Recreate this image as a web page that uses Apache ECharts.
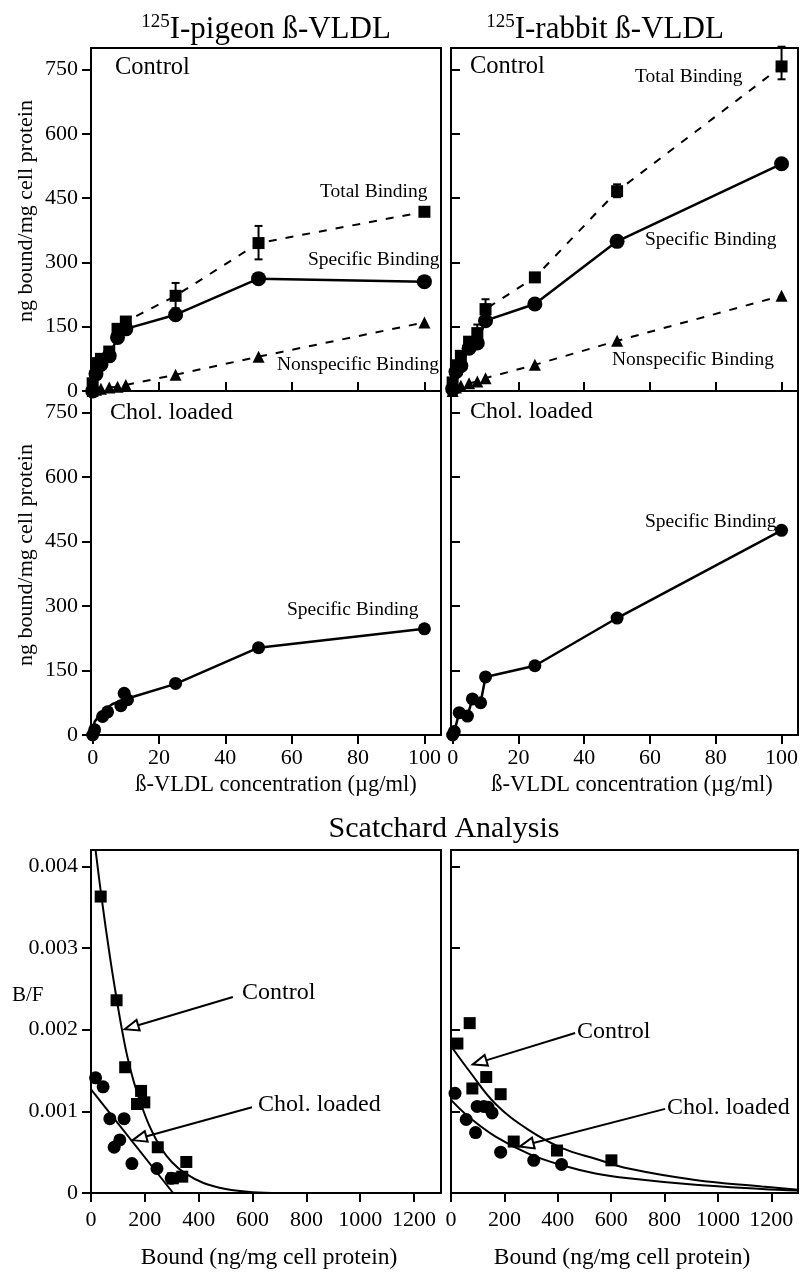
<!DOCTYPE html>
<html>
<head>
<meta charset="utf-8">
<script src="https://cdn.jsdelivr.net/npm/echarts@6/dist/echarts.min.js"></script>
<style>
  html, body { margin: 0; padding: 0; background: #fff; }
  #chart { width: 800px; height: 1273px; }
</style>
</head>
<body>
<div id="chart"></div>
<script>
// binding vs beta-VLDL concentration (ug/ml), ng bound/mg cell protein
var conc = [0, 1, 2.5, 5, 7.5, 10, 25, 50, 100];
var pigeonTotal = [18, 65, 75, 92, 145, 162, 222, 345, 418];
var pigeonSpecific = [0, 40, 62, 82, 125, 145, 178, 262, 255];
var pigeonNonspecific = [0, 3, 5, 8, 10, 14, 38, 80, 160];
var rabbitTotal = [20, 60, 82, 115, 135, 191, 265, 466, 757];
var rabbitSpecific = [5, 45, 59, 100, 112, 164, 203, 349, 530];
var rabbitNonspecific = [0, 8, 12, 18, 22, 30, 61, 117, 222];

// error bars on total binding: x, low, high
var pigeonErrX = [25, 50];
var pigeonErrLow = [193, 307];
var pigeonErrHigh = [252, 385];
var rabbitErrX = [7.5, 10, 50, 100];
var rabbitErrLow = [115, 168, 452, 727];
var rabbitErrHigh = [155, 214, 482, 803];

// cholesterol loaded cells, specific binding
var pigeonCholX = [0, 0.6, 3, 4.5, 8.5, 9.5, 10.5, 25, 50, 100];
var pigeonCholY = [0, 12, 43, 54, 68, 97, 82, 120, 203, 247];
var pigeonCholFitX = [0, 0.6, 2, 3.6, 6, 11, 25, 50, 100];
var pigeonCholFitY = [0, 31, 46, 58, 72, 86, 119, 203, 247];
var rabbitCholX = [0, 0.5, 2, 4.5, 6, 8.5, 10, 25, 50, 100];
var rabbitCholY = [0, 8, 52, 44, 84, 75, 135, 161, 272, 476];

// Scatchard: bound (ng/mg cell protein) vs B/F
var scPigeonCtrlX = [36, 95, 127, 171, 186, 198, 248, 304, 339, 354];
var scPigeonCtrlY = [0.00363, 0.00236, 0.00154, 0.00109, 0.00125, 0.00111, 0.00056, 0.00018, 0.0002, 0.00038];
var scPigeonCholX = [17, 45, 70, 86, 107, 123, 152, 245, 298];
var scPigeonCholY = [0.00141, 0.0013, 0.00091, 0.00056, 0.00065, 0.00091, 0.00036, 0.0003, 0.00018];
var scPigeonCtrlFitX = [17, 40, 70, 95, 115, 135, 160, 190, 220, 260, 300, 350, 420, 500, 600, 700, 1300];
var scPigeonCtrlFitY = [0.0042, 0.0036, 0.0029, 0.00238, 0.002, 0.00167, 0.00135, 0.00105, 0.0008, 0.00055, 0.00038, 0.00024, 0.00012, 0.00005, 0.00001, 0, 0];
var scPigeonCholFitX = [0, 305];
var scPigeonCholFitY = [0.00127, 0];

var scRabbitCtrlX = [24, 70, 80, 132, 186, 235, 397, 601];
var scRabbitCtrlY = [0.00183, 0.00208, 0.00128, 0.00142, 0.00121, 0.00063, 0.00052, 0.0004];
var scRabbitCholX = [15, 57, 92, 98, 123, 139, 154, 186, 310, 414];
var scRabbitCholY = [0.00122, 0.0009, 0.00074, 0.00106, 0.00106, 0.00105, 0.00098, 0.0005, 0.0004, 0.00035];
var scRabbitCtrlFitX = [0, 67, 167, 292, 416, 541, 665, 915, 1164, 1300];
var scRabbitCtrlFitY = [0.0018, 0.0015, 0.00109, 0.00077, 0.00055, 0.00042, 0.0003, 0.00016, 0.00008, 0.00004];
var scRabbitCholFitX = [0, 67, 167, 292, 416, 541, 665, 915, 1164, 1300];
var scRabbitCholFitY = [0.00114, 0.00093, 0.00069, 0.00048, 0.00034, 0.00024, 0.00018, 0.0001, 0.00005, 0.00003];

// tick labels
var bindXTicks = [0, 20, 40, 60, 80, 100];
var bindYTicks = [0, 150, 300, 450, 600, 750];
var scXTicks = [0, 200, 400, 600, 800, 1000, 1200];
var scYTicks = [0, 0.001, 0.002, 0.003, 0.004];

var FONT = 'Liberation Serif';

function pairs(xs, ys) {
  return xs.map(function (x, i) { return [x, ys[i]]; });
}
function triples(xs, lo, hi) {
  return xs.map(function (x, i) { return [x, lo[i], hi[i]]; });
}

var gridBoxes = [
  { left: 91, top: 48, width: 350, height: 343 },
  { left: 451, top: 48, width: 347, height: 343 },
  { left: 91, top: 391, width: 350, height: 344 },
  { left: 451, top: 391, width: 347, height: 344 },
  { left: 91, top: 850, width: 350, height: 343 },
  { left: 451, top: 850, width: 347, height: 343 }
];

function plainFmt(v) { return String(v); }
function scFmt(v) { return v === 0 ? '0' : v.toFixed(3); }

function tickStyle(inside, values) {
  return { show: true, inside: inside, length: 9, customValues: values, lineStyle: { color: '#000', width: 2 } };
}
function labelStyle(show, values, margin, fmt) {
  return { show: show, customValues: values, margin: margin, color: '#000', fontFamily: FONT, fontSize: 22,
    formatter: fmt || plainFmt };
}

function xAxisFor(i, min, max, ticks, inside, showLabel, margin) {
  return {
    type: 'value', gridIndex: i, min: min, max: max,
    axisLine: { show: false, onZero: false },
    splitLine: { show: false },
    axisTick: tickStyle(inside, ticks),
    axisLabel: labelStyle(showLabel, ticks, margin)
  };
}
function yAxisFor(i, min, max, ticks, inside, showLabel, fmt) {
  return {
    type: 'value', gridIndex: i, min: min, max: max,
    axisLine: { show: false, onZero: false },
    splitLine: { show: false },
    axisTick: tickStyle(inside, ticks),
    axisLabel: labelStyle(showLabel, ticks, 13, fmt)
  };
}

function lineSeries(i, data, opts) {
  return Object.assign({
    type: 'line', xAxisIndex: i, yAxisIndex: i, data: data,
    symbol: 'circle', symbolSize: 14, clip: false,
    itemStyle: { color: '#000' },
    lineStyle: { color: '#000', width: 2.5 },
    emphasis: { disabled: true }, silent: true, z: 3
  }, opts);
}

function errorBarItem(params, api) {
  var x = api.value(0);
  var lo = api.coord([x, api.value(1)]);
  var hi = api.coord([x, api.value(2)]);
  var w = 4;
  var st = { stroke: '#000', lineWidth: 2 };
  return {
    type: 'group', children: [
      { type: 'line', shape: { x1: lo[0], y1: lo[1], x2: hi[0], y2: hi[1] }, style: st },
      { type: 'line', shape: { x1: hi[0] - w, y1: hi[1], x2: hi[0] + w, y2: hi[1] }, style: st },
      { type: 'line', shape: { x1: lo[0] - w, y1: lo[1], x2: lo[0] + w, y2: lo[1] }, style: st }
    ]
  };
}
function errSeries(i, data) {
  return { type: 'custom', xAxisIndex: i, yAxisIndex: i, data: data, renderItem: errorBarItem,
    encode: { x: 0, y: [1, 2] }, silent: true, z: 4 };
}

function arrow(from, to) {
  return {
    silent: true, animation: false,
    symbol: ['none', 'emptyTriangle'], symbolSize: [11, 14],
    lineStyle: { color: '#000', width: 2, type: 'solid' },
    itemStyle: { color: '#000' },
    label: { show: false },
    emphasis: { disabled: true },
    data: [[{ coord: from }, { coord: to }]]
  };
}

var dashed = { color: '#000', width: 2, type: [8, 9] };

// text helpers
function txt(text, x, y, size, align, extra) {
  return Object.assign({
    type: 'text', x: x, y: y, silent: true, z: 10,
    style: { text: text, fill: '#000', font: size + 'px "' + FONT + '"',
      align: align || 'left', textAlign: align || 'left', verticalAlign: 'middle', textVerticalAlign: 'middle' }
  }, extra || {});
}
function titleTxt(rest, x, y) {
  return {
    type: 'text', x: x, y: y, silent: true,
    style: {
      text: '{s|125}{m|' + rest + '}', align: 'center', textAlign: 'center', verticalAlign: 'middle', textVerticalAlign: 'middle',
      rich: {
        s: { fontFamily: FONT, fontSize: 19, fill: '#000', color: '#000', verticalAlign: 'top', lineHeight: 30 },
        m: { fontFamily: FONT, fontSize: 31, fill: '#000', color: '#000', lineHeight: 34 }
      }
    }
  };
}

var chart = echarts.init(document.getElementById('chart'), null, { renderer: 'canvas' });

chart.setOption({
  backgroundColor: '#fff',
  animation: false,
  grid: gridBoxes.map(function (g) {
    return Object.assign({ show: true, borderColor: '#000', borderWidth: 2, backgroundColor: 'transparent',
      containLabel: false, outerBoundsMode: 'none' }, g);
  }),
  xAxis: [
    xAxisFor(0, -0.5, 105, bindXTicks, true, false, 12),
    xAxisFor(1, -0.5, 105, bindXTicks, true, false, 12),
    xAxisFor(2, -0.5, 105, bindXTicks, false, true, 12),
    xAxisFor(3, -0.5, 105, bindXTicks, false, true, 12),
    xAxisFor(4, 0, 1300, scXTicks, false, true, 16),
    xAxisFor(5, 0, 1300, scXTicks, false, true, 16)
  ],
  yAxis: [
    yAxisFor(0, 0, 800, bindYTicks, false, true),
    yAxisFor(1, 0, 800, bindYTicks, true, false),
    yAxisFor(2, 0, 800, bindYTicks, false, true),
    yAxisFor(3, 0, 800, bindYTicks, true, false),
    yAxisFor(4, 0, 0.0042, scYTicks, false, true, scFmt),
    yAxisFor(5, 0, 0.0042, scYTicks, true, false, scFmt)
  ],
  series: [
    // pigeon control
    lineSeries(0, pairs(conc, pigeonTotal), { symbol: 'rect', symbolSize: 12, lineStyle: dashed }),
    lineSeries(0, pairs(conc, pigeonSpecific), { symbolSize: 15 }),
    lineSeries(0, pairs(conc, pigeonNonspecific), { symbol: 'triangle', symbolSize: 12, lineStyle: dashed }),
    errSeries(0, triples(pigeonErrX, pigeonErrLow, pigeonErrHigh)),
    // rabbit control
    lineSeries(1, pairs(conc, rabbitTotal), { symbol: 'rect', symbolSize: 12, lineStyle: dashed }),
    lineSeries(1, pairs(conc, rabbitSpecific), { symbolSize: 15 }),
    lineSeries(1, pairs(conc, rabbitNonspecific), { symbol: 'triangle', symbolSize: 12, lineStyle: dashed }),
    errSeries(1, triples(rabbitErrX, rabbitErrLow, rabbitErrHigh)),
    // pigeon chol loaded
    lineSeries(2, pairs(pigeonCholFitX, pigeonCholFitY), { symbol: 'none' }),
    { type: 'scatter', xAxisIndex: 2, yAxisIndex: 2, data: pairs(pigeonCholX, pigeonCholY), symbolSize: 13,
      itemStyle: { color: '#000', opacity: 1 }, silent: true, clip: false, z: 4 },
    // rabbit chol loaded
    lineSeries(3, pairs(rabbitCholX, rabbitCholY), { symbolSize: 13 }),
    // Scatchard pigeon
    lineSeries(4, pairs(scPigeonCtrlFitX, scPigeonCtrlFitY), { symbol: 'none', smooth: 0.4, clip: true,
      lineStyle: { color: '#000', width: 2 },
      markLine: arrow([527, 0.0024], [150, 0.00203]) }),
    lineSeries(4, pairs(scPigeonCholFitX, scPigeonCholFitY), { symbol: 'none', clip: true,
      lineStyle: { color: '#000', width: 2 },
      markLine: arrow([598, 0.00105], [180, 0.00067]) }),
    { type: 'scatter', xAxisIndex: 4, yAxisIndex: 4, data: pairs(scPigeonCtrlX, scPigeonCtrlY), symbol: 'rect', symbolSize: 12,
      itemStyle: { color: '#000', opacity: 1 }, silent: true, clip: false, z: 4 },
    { type: 'scatter', xAxisIndex: 4, yAxisIndex: 4, data: pairs(scPigeonCholX, scPigeonCholY), symbolSize: 13,
      itemStyle: { color: '#000', opacity: 1 }, silent: true, clip: false, z: 4 },
    // Scatchard rabbit
    lineSeries(5, pairs(scRabbitCtrlFitX, scRabbitCtrlFitY), { symbol: 'none', smooth: 0.4, clip: true,
      lineStyle: { color: '#000', width: 2 },
      markLine: arrow([465, 0.00196], [107, 0.0016]) }),
    lineSeries(5, pairs(scRabbitCholFitX, scRabbitCholFitY), { symbol: 'none', smooth: 0.4, clip: true,
      lineStyle: { color: '#000', width: 2 },
      markLine: arrow([802, 0.00103], [283, 0.00059]) }),
    { type: 'scatter', xAxisIndex: 5, yAxisIndex: 5, data: pairs(scRabbitCtrlX, scRabbitCtrlY), symbol: 'rect', symbolSize: 12,
      itemStyle: { color: '#000', opacity: 1 }, silent: true, clip: false, z: 4 },
    { type: 'scatter', xAxisIndex: 5, yAxisIndex: 5, data: pairs(scRabbitCholX, scRabbitCholY), symbolSize: 13,
      itemStyle: { color: '#000', opacity: 1 }, silent: true, clip: false, z: 4 }
  ],
  graphic: [
    titleTxt('I-pigeon ß-VLDL', 266, 30),
    titleTxt('I-rabbit ß-VLDL', 605, 30),
    txt('Scatchard Analysis', 444, 829, 30, 'center'),
    // panel labels
    txt('Control', 115, 68, 24.5),
    txt('Control', 470, 67, 24.5),
    txt('Chol. loaded', 110, 413, 24),
    txt('Chol. loaded', 470, 412, 24),
    // series labels
    txt('Total Binding', 320, 192, 19.5),
    txt('Specific Binding', 308, 260, 19.5),
    txt('Nonspecific Binding', 277, 365, 19.5),
    txt('Total Binding', 635, 77, 19.5),
    txt('Specific Binding', 645, 240, 19.5),
    txt('Nonspecific Binding', 612, 360, 19.5),
    txt('Specific Binding', 287, 610, 19.5),
    txt('Specific Binding', 645, 522, 19.5),
    // axis names
    txt('ng bound/mg cell protein', 26, 211, 22, 'center', { rotation: Math.PI / 2 }),
    txt('ng bound/mg cell protein', 26, 555, 22, 'center', { rotation: Math.PI / 2 }),
    txt('ß-VLDL concentration (µg/ml)', 276, 785, 22.5, 'center'),
    txt('ß-VLDL concentration (µg/ml)', 632, 785, 22.5, 'center'),
    txt('Bound (ng/mg cell protein)', 269, 1258, 23.5, 'center'),
    txt('Bound (ng/mg cell protein)', 622, 1258, 23.5, 'center'),
    txt('B/F', 12, 995, 21),
    // Scatchard annotations
    txt('Control', 242, 993, 24),
    txt('Chol. loaded', 258, 1105, 24),
    txt('Control', 577, 1032, 24),
    txt('Chol. loaded', 667, 1108, 24)
  ]
});
</script>
</body>
</html>
